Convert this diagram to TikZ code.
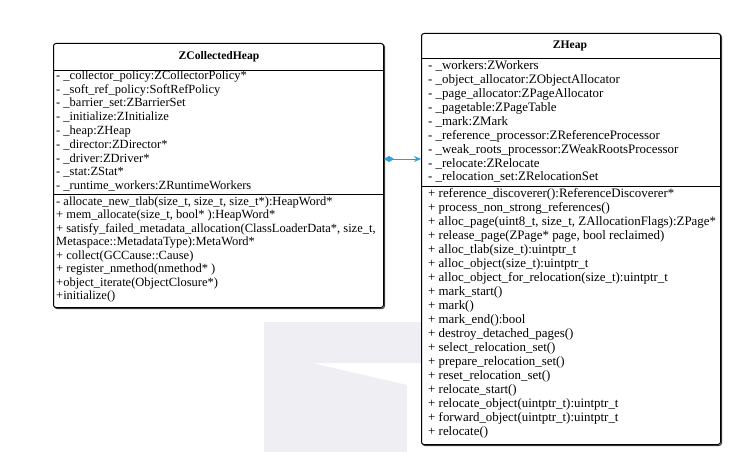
\documentclass[tikz,border=0pt]{standalone}
\usepackage{fontspec}
\setmainfont{Liberation Serif}
\usetikzlibrary{arrows.meta}
\definecolor{conncol}{RGB}{45,160,215}
\definecolor{wmark}{RGB}{238,238,243}
\tikzset{
  umlbox/.style={draw=black, line width=1pt, rounded corners=2.5pt, fill=white, inner sep=0pt, anchor=north west},
  shadowbox/.style={draw=black!75, line width=1pt, rounded corners=2.5pt, inner sep=0pt, anchor=north west},
  sep/.style={line width=0.9pt},
  rowl/.style={anchor=mid west, inner sep=0pt, font=\fontsize{12.5}{14}\selectfont},
  rowr/.style={anchor=mid west, inner sep=0pt, font=\fontsize{12.9}{14}\selectfont},
  ttl/.style={anchor=center, inner sep=0pt, font=\fontsize{11.6}{14}\selectfont\bfseries},
  conn/.style={draw=conncol, line width=0.8pt, {Diamond[length=10pt,width=6pt]}-{Stealth[length=7pt,width=6pt]}}
}
\begin{document}
\begin{tikzpicture}[x=1pt, y=-1pt]
\useasboundingbox (0,0) rectangle (752,452);
% watermark
\fill[wmark] (264,322) -- (421,322) -- (421,363) -- (312,363) -- (407,385) -- (407,452) -- (264,452) -- cycle;

% ZCollectedHeap
\node[shadowbox, minimum width=330pt, minimum height=264pt] (zcs) at (54,44) {};
\node[umlbox, minimum width=330pt, minimum height=264pt] (zc) at (53,43) {};
\draw[sep] (53,70) -- (383,70);
\draw[sep] (53,194) -- (383,194);
\node[ttl] (zct) at (219,57) {ZCollectedHeap};
\foreach \t [count=\i from 0] in {
  {- \_collector\_policy:ZCollectorPolicy*},
  {- \_soft\_ref\_policy:SoftRefPolicy},
  {- \_barrier\_set:ZBarrierSet},
  {- \_initialize:ZInitialize},
  {- \_heap:ZHeap},
  {- \_director:ZDirector*},
  {- \_driver:ZDriver*},
  {- \_stat:ZStat*},
  {- \_runtime\_workers:ZRuntimeWorkers}}
  \node[rowl] (zca\i) at (56,{77+13.8*\i}) {\t};
\foreach \t [count=\i from 0] in {
  {- allocate\_new\_tlab(size\_t, size\_t, size\_t*):HeapWord*},
  {+ mem\_allocate(size\_t, bool* ):HeapWord*},
  {+ satisfy\_failed\_metadata\_allocation(ClassLoaderData*, size\_t,},
  {Metaspace::MetadataType):MetaWord*},
  {+ collect(GCCause::Cause)},
  {+ register\_nmethod(nmethod* )},
  {+object\_iterate(ObjectClosure*)},
  {+initialize()}}
  \node[rowl] (zcm\i) at (56,{203+13.5*\i}) {\t};

% ZHeap
\node[shadowbox, minimum width=299pt, minimum height=411pt] (zhs) at (422,34) {};
\node[umlbox, minimum width=299pt, minimum height=411pt] (zh) at (421,33) {};
\draw[sep] (421,58) -- (720,58);
\draw[sep] (421,186) -- (720,186);
\node[ttl] (zht) at (570,46) {ZHeap};
\foreach \t [count=\i from 0] in {
  {- \_workers:ZWorkers},
  {- \_object\_allocator:ZObjectAllocator},
  {- \_page\_allocator:ZPageAllocator},
  {- \_pagetable:ZPageTable},
  {- \_mark:ZMark},
  {- \_reference\_processor:ZReferenceProcessor},
  {- \_weak\_roots\_processor:ZWeakRootsProcessor},
  {- \_relocate:ZRelocate},
  {- \_relocation\_set:ZRelocationSet}}
  \node[rowr] (zha\i) at (428,{67.5+13.9*\i}) {\t};
\foreach \t [count=\i from 0] in {
  {+ reference\_discoverer():ReferenceDiscoverer*},
  {+ process\_non\_strong\_references()},
  {+ alloc\_page(uint8\_t, size\_t, ZAllocationFlags):ZPage*},
  {+ release\_page(ZPage* page, bool reclaimed)},
  {+ alloc\_tlab(size\_t):uintptr\_t},
  {+ alloc\_object(size\_t):uintptr\_t},
  {+ alloc\_object\_for\_relocation(size\_t):uintptr\_t},
  {+ mark\_start()},
  {+ mark()},
  {+ mark\_end():bool},
  {+ destroy\_detached\_pages()},
  {+ select\_relocation\_set()},
  {+ prepare\_relocation\_set()},
  {+ reset\_relocation\_set()},
  {+ relocate\_start()},
  {+ relocate\_object(uintptr\_t):uintptr\_t},
  {+ forward\_object(uintptr\_t):uintptr\_t},
  {+ relocate()}}
  \node[rowr] (zhm\i) at (428,{195+14*\i}) {\t};

% connector
\coordinate (cy) at (400,159);
\draw[conn] (zc.east |- cy) -- (zh.west |- cy);
\end{tikzpicture}
\end{document}
